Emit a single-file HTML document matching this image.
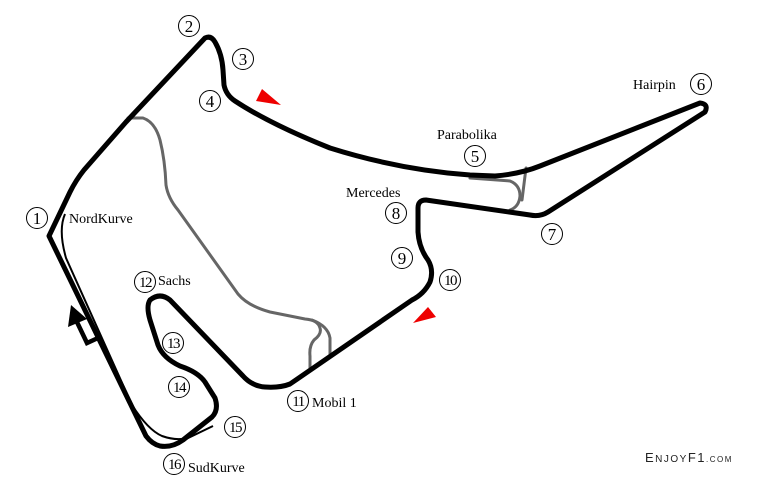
<!DOCTYPE html>
<html><head><style>
html,body{margin:0;padding:0;background:#fff;}
svg{display:block;}
text{font-family:"Liberation Serif",serif;fill:#000;}
</style></head><body>
<svg width="769" height="480" viewBox="0 0 769 480" xmlns="http://www.w3.org/2000/svg">
<g fill="none" stroke="#666" stroke-width="3" stroke-linecap="round" stroke-linejoin="round">
<path d="M128,118 L143,118 Q155,122 160,140 Q165,160 166,185 Q168,198 178,210 L238,294 Q248,306 270,312 L305,319 Q318,320 320,328 Q322,334 314,340 Q309,346 310,356 L310,368"/>
<path d="M312,320 Q328,326 330,338 L330,356"/>
<path d="M470,178 L510,181 Q520,185 520,196 Q519,207 510,210"/>
<path d="M526,168 L522,200"/>
</g>
<path d="M65,214 Q58,230 66,258 L132,405 Q148,430 162,436 Q176,441 188,438 L213,426" fill="none" stroke="#000" stroke-width="2"/>
<g fill="none" stroke="#000" stroke-width="5" stroke-linecap="round" stroke-linejoin="round">
<path d="M49,236 L70,192 Q76,180 84,170 L126,122 L205,38 Q211,35 215,42 Q222,54 223,70 L224,85 Q226,95 235,101 Q270,124 330,148 Q400,170 470,175 L495,176 Q520,174 540,166 L700,103 Q709,104 705,112 L548,212 Q540,217 530,215 L426,200 Q418,200 418,208 L418,232 Q419,248 428,260 Q434,270 430,282 Q424,294 412,300 L290,384 Q280,388 265,387 Q252,386 243,376 L170,300 Q160,292 150,300 Q146,306 150,320 L158,345 Q163,358 180,366 Q198,372 205,382 L215,398 Q219,410 212,417 L183,440 Q172,448 160,446 Q152,444 146,436 L49,236 Z"/>
</g>
<path d="M76,320 L87,343 L98,338" fill="none" stroke="#000" stroke-width="4.5"/>
<polygon points="71,305 68,327 87,319" fill="#000"/>
<polygon points="262,89 281,105 256,101" fill="#e00"/>
<polygon points="413,323 428,307 436,317" fill="#e00"/>
<g fill="none" stroke="#000" stroke-width="1">
<circle cx="37" cy="218" r="10.5"/><circle cx="189" cy="26" r="10.5"/>
<circle cx="243" cy="59" r="10.5"/><circle cx="210" cy="101" r="10.5"/>
<circle cx="475" cy="156" r="10.5"/><circle cx="701" cy="84" r="10.5"/>
<circle cx="552" cy="234" r="10.5"/><circle cx="396" cy="213" r="10.5"/>
<circle cx="402" cy="258" r="10.5"/><circle cx="450" cy="280" r="10.5"/>
<circle cx="298" cy="401" r="10.5"/><circle cx="145" cy="282" r="10.5"/>
<circle cx="173" cy="343" r="10.5"/><circle cx="179" cy="387" r="10.5"/>
<circle cx="235" cy="427" r="10.5"/><circle cx="174" cy="464" r="10.5"/>
</g>
<g font-size="17" text-anchor="middle">
<text x="37" y="224">1</text><text x="189" y="32">2</text>
<text x="243" y="65">3</text><text x="210" y="107">4</text>
<text x="475" y="162">5</text><text x="701" y="90">6</text>
<text x="552" y="240">7</text><text x="396" y="219">8</text>
<text x="402" y="264">9</text>
</g>
<g font-size="15" text-anchor="middle" letter-spacing="-1.5">
<text x="450" y="285">10</text><text x="298" y="406">11</text>
<text x="145" y="287">12</text><text x="173" y="348">13</text>
<text x="179" y="392">14</text><text x="235" y="432">15</text>
<text x="174" y="469">16</text>
</g>
<g font-size="14">
<text x="69" y="223">NordKurve</text>
<text x="158" y="285">Sachs</text>
<text x="312" y="407">Mobil 1</text>
<text x="188" y="472">SudKurve</text>
<text x="346" y="197">Mercedes</text>
<text x="437" y="139">Parabolika</text>
<text x="633" y="89">Hairpin</text>
</g>
<text x="645" y="462" style="font-family:'Liberation Sans',sans-serif;font-size:13px;letter-spacing:1.5px;fill:#222">E<tspan font-size="10">NJOY</tspan>F1<tspan font-size="8">.COM</tspan></text>
</svg>
</body></html>
